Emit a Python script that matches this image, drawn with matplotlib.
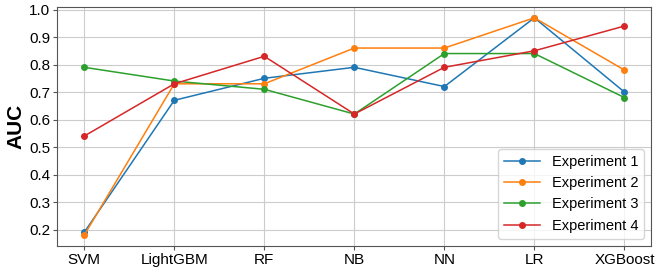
import numpy as np
import matplotlib
matplotlib.use('Agg')
import matplotlib.pyplot as plt

plt.rcParams['font.family'] = ['Liberation Sans', 'DejaVu Sans']

models = ['SVM', 'LightGBM', 'RF', 'NB', 'NN', 'LR', 'XGBoost']
exp1 = [0.19, 0.67, 0.75, 0.79, 0.72, 0.97, 0.70]
exp2 = [0.18, 0.73, 0.73, 0.86, 0.86, 0.97, 0.78]
exp3 = [0.79, 0.74, 0.71, 0.62, 0.84, 0.84, 0.68]
exp4 = [0.54, 0.73, 0.83, 0.62, 0.79, 0.85, 0.94]
labels = ['Experiment 1', 'Experiment 2', 'Experiment 3', 'Experiment 4']

fig, ax = plt.subplots(figsize=(6.58, 2.67), dpi=100)
for vals, lab in zip([exp1, exp2, exp3, exp4], labels):
    ax.plot(models, vals, marker='o', markersize=4, linewidth=1.1, label=lab)

ax.set_yticks(np.arange(0.2, 1.01, 0.1))
ax.grid(True, color='#cccccc', linewidth=0.8)
ax.set_axisbelow(True)
ax.set_ylabel('AUC', fontsize=15, fontweight='bold', labelpad=3)
ax.tick_params(axis='both', labelsize=11, color='#555555', length=3, pad=2)
for s in ax.spines.values():
    s.set_color('#555555')
ax.legend(loc='lower right', fontsize=10.5, handlelength=2.5)

fig.subplots_adjust(left=0.087, right=0.99, top=0.974, bottom=0.079)
fig.savefig('out.png', dpi=100)
